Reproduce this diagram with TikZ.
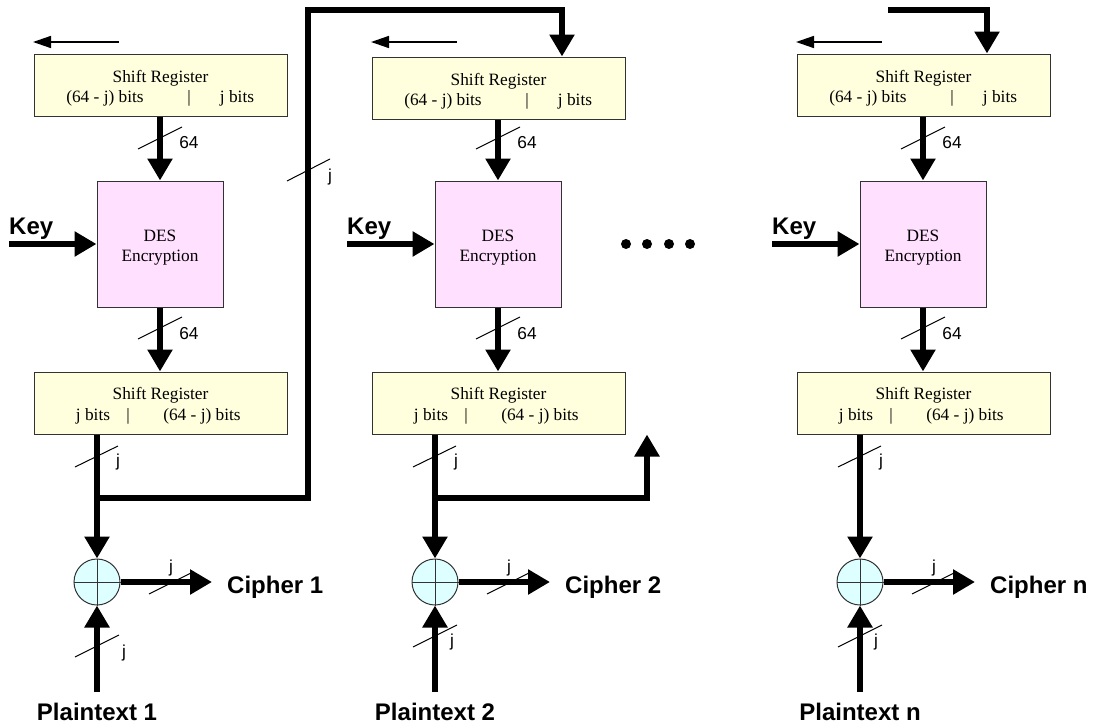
\documentclass[tikz,border=0pt]{standalone}
\usepackage{fontspec}
\setmainfont{Liberation Serif}
\newfontfamily\arialf{Liberation Sans}
\usetikzlibrary{arrows.meta}
\definecolor{srfill}{RGB}{255,255,221}
\definecolor{desfill}{RGB}{255,224,255}
\definecolor{xorfill}{RGB}{221,255,255}
\definecolor{edge}{RGB}{50,50,50}
\begin{document}
\begin{tikzpicture}[x=1pt,y=-1pt,
  srbox/.style={draw=edge, line width=1pt, fill=srfill, minimum width=253pt, minimum height=62pt, inner sep=0pt},
  desbox/.style={draw=edge, line width=1pt, fill=desfill, minimum width=126pt, minimum height=126pt, inner sep=0pt},
  xorc/.style={circle, draw=edge, line width=1pt, fill=xorfill, minimum size=46pt, inner sep=0pt},
  serif/.style={font=\fontsize{17.3}{20}\selectfont, inner sep=0pt},
  lbl/.style={font=\arialf\fontsize{17.3}{20}\selectfont, inner sep=0pt},
  big/.style={font=\arialf\bfseries\fontsize{24}{28}\selectfont, inner sep=0pt},
  bus/.style={line width=6pt, line join=miter, -{Triangle[width=24pt,length=22pt]}},
  shiftarr/.style={line width=1.5pt, -{Triangle[width=12pt,length=18pt]}},
  slash/.style={line width=1pt},
  crossline/.style={draw=edge, line width=1pt},
  dot/.style={circle, fill=black, minimum size=10pt, inner sep=0pt},
]
\useasboundingbox (0,0) rectangle (1093,728);

\foreach \dx/\n/\tdy/\pty/\pjx/\pjy in {0/1/0/646/124/653, 338/2/3/636/114/642, 763/n/0/636/113/642}{
\begin{scope}[xshift=\dx pt]
  % top shift register
  \node[srbox] (sra\n) at (160.5,{85+\tdy}) {};
  \node[serif, anchor=base] (sraT\n) at (160.5,{82+\tdy}) {Shift Register};
  \node[serif, anchor=base] (sraL\n) at (105,{102+\tdy}) {(64 - j) bits};
  \node[serif, anchor=base] (sraM\n) at (189,{102+\tdy}) {|};
  \node[serif, anchor=base] (sraR\n) at (237,{102+\tdy}) {j bits};
  \coordinate (sh\n a) at (119,42);
  \coordinate (sh\n b) at (33,42);
  \draw[shiftarr] (sh\n a) -- (sh\n b);

  % DES
  \node[desbox] (des\n) at (160,244) {};
  \node[serif, anchor=base] (desA\n) at (160,241) {DES};
  \node[serif, anchor=base] (desB\n) at (160,261) {Encryption};
  \draw[bus] (sra\n.south -| des\n.north) -- (des\n.north);
  \draw[slash] (138,149) -- (182,127);
  \node[lbl] (l64a\n) at (189,143) {64};

  % key
  \node[big, anchor=base west] (key\n) at (9,234) {Key};
  \coordinate (k\n) at (9,244);
  \draw[bus] (k\n) -- (des\n.west);

  % bottom shift register
  \node[srbox] (srb\n) at (160.5,403) {};
  \node[serif, anchor=base] (srbT\n) at (160.5,399) {Shift Register};
  \node[serif, anchor=base] (srbL\n) at (93,420) {j bits};
  \node[serif, anchor=base] (srbM\n) at (128,420) {|};
  \node[serif, anchor=base] (srbR\n) at (202,420) {(64 - j) bits};
  \draw[bus] (des\n.south) -- (des\n.south |- srb\n.north);
  \draw[slash] (138,339) -- (182,317);
  \node[lbl] (l64b\n) at (189,334) {64};

  % xor
  \node[xorc] (x\n) at (97,582) {};
  \draw[crossline] (x\n.north) -- (x\n.south);
  \draw[crossline] (x\n.west) -- (x\n.east);
  \draw[bus] (srb\n.south -| x\n) -- (x\n.north);
  \draw[slash] (75,467) -- (118,446);
  \node[lbl] (jd\n) at (118,462) {j};

  % cipher output
  \coordinate (c\n) at (212,582);
  \draw[bus] (x\n.east) -- (c\n);
  \draw[slash] (149,594) -- (193,572);
  \node[lbl] (jc\n) at (171,568) {j};
  \node[big, anchor=base west] (cipher\n) at (227,593) {Cipher \n};

  % plaintext input
  \coordinate (p\n) at (97,692);
  \draw[bus] (p\n) -- (x\n.south);
  \draw[slash] (75,{\pty+11}) -- (119,{\pty-11});
  \node[lbl] (jp\n) at (\pjx,\pjy) {j};
  \node[big, anchor=base] (plain\n) at (97,720) {Plaintext \n};
\end{scope}
}

% feedback from column 1 to column 2
\coordinate (br1) at (97,498);
\coordinate (fa) at (308,498);
\coordinate (fb) at (308,10);
\coordinate (fc) at (562,10);
\draw[bus] (br1) -- (fa) -- (fb) -- (fc) -- (fc |- sra2.north);
\draw[slash] (287,181) -- (330,159);
\node[lbl] (jf) at (330,177) {j};

% branch of column 2
\coordinate (br2) at (435,498);
\coordinate (ga) at (647,498);
\draw[bus] (br2) -- (ga) -- (ga |- srb2.south);

% feed into column n
\coordinate (ha) at (888,10);
\coordinate (hb) at (987,10);
\draw[bus] (ha) -- (hb) -- (hb |- sran.north);

% dots
\node[dot] (d1) at (626,244) {};
\node[dot] (d2) at (647,244) {};
\node[dot] (d3) at (669,244) {};
\node[dot] (d4) at (690,244) {};
\end{tikzpicture}
\end{document}
